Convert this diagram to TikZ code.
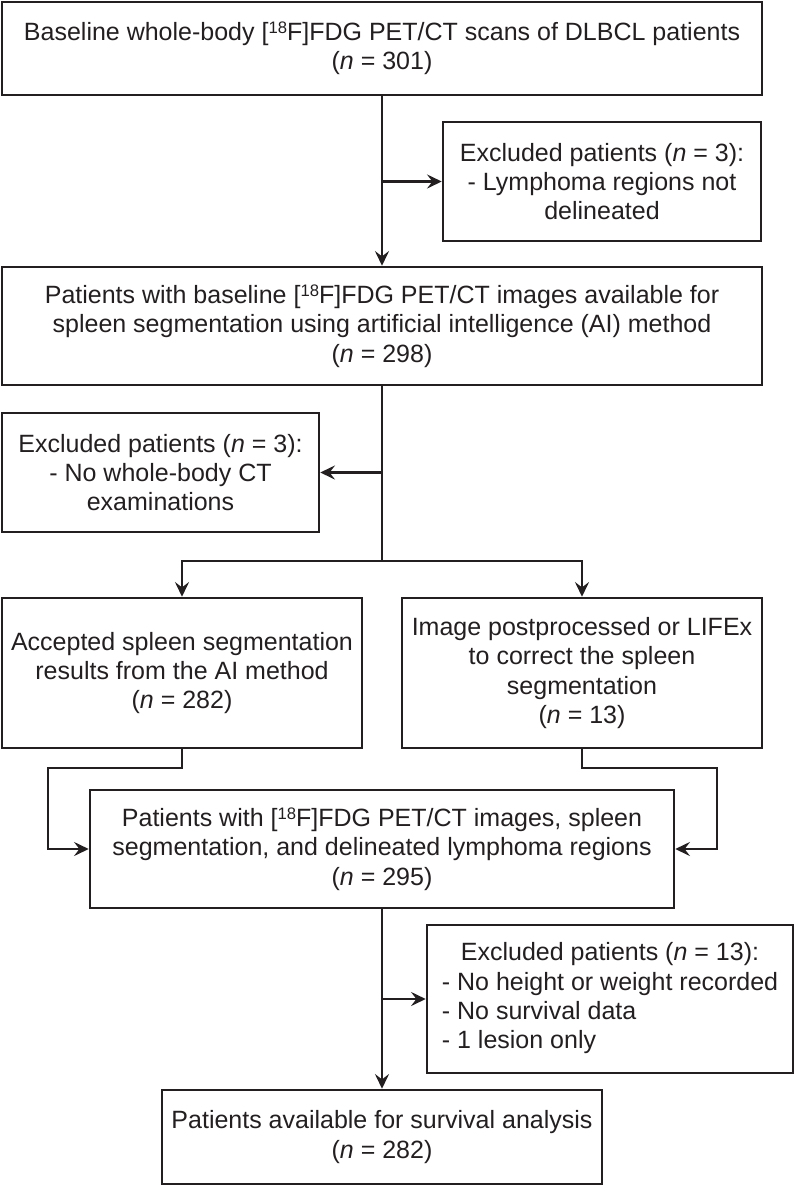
\documentclass[tikz,border=0pt]{standalone}
\usepackage{fontspec}
\setmainfont{Liberation Sans}
\usetikzlibrary{arrows.meta,calc}
\definecolor{ink}{HTML}{231F20}
\newcommand{\isot}[1]{\raisebox{0.28em}{\fontsize{12.5}{12.5}\selectfont #1}}
\begin{document}
\begin{tikzpicture}[x=0.75pt,y=-0.75pt,
  every node/.style={font=\fontsize{18.75}{22}\selectfont, text=ink},
  box/.style={draw=ink, line width=1.9pt, rectangle, inner sep=0pt, align=center},
  sz/.style 2 args={minimum width=#1*0.75pt, minimum height=#2*0.75pt},
  arr/.style={draw=ink, line width=1.9pt, -{Stealth[length=11pt,width=10.5pt,inset=4pt]}},
  ln/.style={draw=ink, line width=1.9pt}]
\useasboundingbox (0,0) rectangle (794,1186);

\node[box, sz={760}{93}] (b1) at (382,48.5)
  {Baseline whole-body [\isot{18}F]FDG PET/CT scans of DLBCL patients\\(\textit{n} = 301)};
\node[box, sz={318}{119}] (b2) at (602,181.5)
  {Excluded patients (\textit{n} = 3):\\- Lymphoma regions not\\delineated};
\node[box, sz={760}{118}] (b3) at (382,326)
  {Patients with baseline [\isot{18}F]FDG PET/CT images available for\\spleen segmentation using artificial intelligence (AI) method\\(\textit{n} = 298)};
\node[box, sz={317}{119}] (b4) at (160.5,472.5)
  {Excluded patients (\textit{n} = 3):\\- No whole-body CT\\examinations};
\node[box, sz={360}{150}] (b5) at (182,673)
  {Accepted spleen segmentation\\results from the AI method\\(\textit{n} = 282)};
\node[box, sz={360}{150}] (b6) at (582,673)
  {Image postprocessed or LIFEx\\to correct the spleen\\segmentation\\(\textit{n} = 13)};
\node[box, sz={584}{118}] (b7) at (382,849)
  {Patients with [\isot{18}F]FDG PET/CT images, spleen\\segmentation, and delineated lymphoma regions\\(\textit{n} = 295)};
\node[box, sz={366}{148}] (b8) at (610,999)
  {\begin{tabular}{@{}l@{}}\multicolumn{1}{@{}c@{}}{Excluded patients (\textit{n} = 13):}\\- No height or weight recorded\\- No survival data\\- 1 lesion only\end{tabular}};
\node[box, sz={440}{94}] (b9) at (382,1137)
  {Patients available for survival analysis\\(\textit{n} = 282)};

% connectors
\draw[arr] (b1.south) -- (b3.north);
\coordinate (j1) at (b1.south |- b2.west);
\draw[arr] (j1) -- (b2.west);

\coordinate (br) at (382,561);
\draw[ln] (b3.south) -- (br);
\coordinate (j2) at (b3.south |- b4.east);
\draw[arr] (j2) -- (b4.east);
\draw[arr] (br) -| (b5.north);
\draw[arr] (br) -| (b6.north);

\coordinate (l1) at (48,768);
\coordinate (r1) at (717,768);
\draw[arr] (b5.south) |- (l1) |- (b7.west);
\draw[arr] (b6.south) |- (r1) |- (b7.east);

\draw[arr] (b7.south) -- (b9.north);
\coordinate (j3) at (b7.south |- b8.west);
\draw[arr] (j3) -- (b8.west);
\end{tikzpicture}
\end{document}
